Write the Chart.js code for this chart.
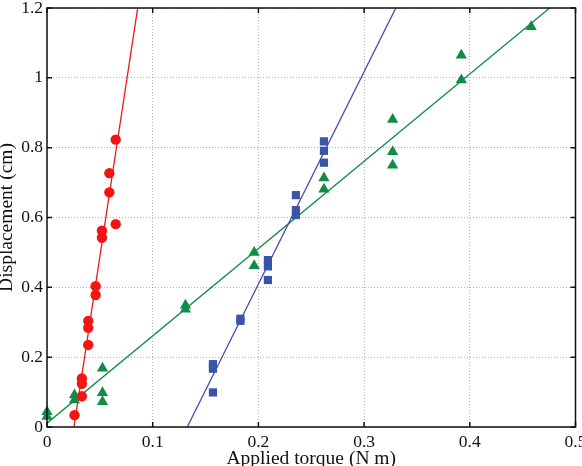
<!DOCTYPE html>
<html>
<head>
<meta charset="utf-8">
<script src="https://cdn.jsdelivr.net/npm/chart.js@4/dist/chart.umd.min.js"></script>
<style>
  html, body { margin: 0; padding: 0; background: #fff; }
  #wrap { width: 582px; height: 466px; }
  .pre { font-family: 'Liberation Serif'; position: absolute; left: -999px; }
</style>
</head>
<body>
<span class="pre">0.1 Applied</span>
<div id="wrap"><canvas id="c" width="582" height="466"></canvas></div>
<script>
// ---- data ----
const redX   = [0.026, 0.033, 0.033, 0.033, 0.039, 0.039, 0.039, 0.046, 0.046, 0.052, 0.052, 0.059, 0.059, 0.065, 0.065];
const redY   = [0.034, 0.088, 0.124, 0.139, 0.235, 0.284, 0.304, 0.378, 0.403, 0.542, 0.562, 0.672, 0.727, 0.581, 0.823];

const blueX  = [0.157, 0.157, 0.157, 0.183, 0.183, 0.209, 0.209, 0.209, 0.2355, 0.2355, 0.2355, 0.262, 0.262, 0.262];
const blueY  = [0.180, 0.167, 0.099, 0.304, 0.310, 0.478, 0.460, 0.421, 0.664, 0.621, 0.607, 0.818, 0.791, 0.757];

const greenX = [0, 0, 0.026, 0.026, 0.0525, 0.0525, 0.0525, 0.131, 0.131, 0.196, 0.196, 0.262, 0.262, 0.327, 0.327, 0.327, 0.392, 0.392, 0.458];
const greenY = [0.044, 0.030, 0.092, 0.077, 0.168, 0.098, 0.072, 0.349, 0.337, 0.500, 0.462, 0.713, 0.681, 0.881, 0.788, 0.750, 1.065, 0.994, 1.146];

// fitted lines: endpoints (x, y)
const redFitX   = [0.0255, 0.0858];
const redFitY   = [0, 1.2];
const blueFitX  = [0.1327, 0.330];
const blueFitY  = [0, 1.2];
const greenFitX = [0, 0.5];
const greenFitY = [0.011, 1.261];

const xTicks = [0, 0.1, 0.2, 0.3, 0.4, 0.5];
const yTicks = [0, 0.2, 0.4, 0.6, 0.8, 1, 1.2];

const xTitle = 'Applied torque (N m)';
const yTitle = 'Displacement (cm)';

// ---- styles ----
const RED = 'rgb(245,20,20)';
const GREEN = 'rgb(16,140,72)';
const BLUE = 'rgb(58,84,168)';
const BLUE_LINE = 'rgb(72,76,165)';
const FONT = 'Liberation Serif';

const pts = (xs, ys) => xs.map((x, i) => ({x: x, y: ys[i]}));

const boxPlugin = {
  id: 'boxTicks',
  afterDraw(chart) {
    const ctx = chart.ctx;
    const a = chart.chartArea;
    const xs = chart.scales.x, ys = chart.scales.y;
    ctx.save();
    ctx.strokeStyle = '#111';
    ctx.lineWidth = 1.5;
    ctx.beginPath();
    ctx.rect(a.left, a.top, a.right - a.left, a.bottom - a.top);
    ctx.stroke();
    ctx.beginPath();
    const L = 5;
    xs.ticks.forEach(t => {
      const p = xs.getPixelForValue(t.value);
      ctx.moveTo(p, a.bottom); ctx.lineTo(p, a.bottom - L);
      ctx.moveTo(p, a.top); ctx.lineTo(p, a.top + L);
    });
    ys.ticks.forEach(t => {
      const p = ys.getPixelForValue(t.value);
      ctx.moveTo(a.left, p); ctx.lineTo(a.left + L, p);
      ctx.moveTo(a.right, p); ctx.lineTo(a.right - L, p);
    });
    ctx.stroke();
    ctx.restore();
  }
};

function build() {
  Chart.defaults.font.family = FONT;
  new Chart(document.getElementById('c'), {
    type: 'scatter',
    data: {
      datasets: [
        { data: pts(redX, redY), pointStyle: 'circle', pointRadius: 5.2, backgroundColor: RED, borderColor: RED, borderWidth: 0, clip: false },
        { data: pts(blueX, blueY), pointStyle: 'rect', pointRadius: 5.8, backgroundColor: BLUE, borderColor: BLUE, borderWidth: 0, clip: false },
        { data: pts(greenX, greenY), pointStyle: 'triangle', pointRadius: 6.5, backgroundColor: GREEN, borderColor: GREEN, borderWidth: 0, clip: false },
        { type: 'line', data: pts(redFitX, redFitY), showLine: true, borderColor: RED, borderWidth: 1.3, pointRadius: 0, fill: false, clip: 0 },
        { type: 'line', data: pts(blueFitX, blueFitY), showLine: true, borderColor: BLUE_LINE, borderWidth: 1.3, pointRadius: 0, fill: false, clip: 0 },
        { type: 'line', data: pts(greenFitX, greenFitY), showLine: true, borderColor: GREEN, borderWidth: 1.3, pointRadius: 0, fill: false, clip: 0 }
      ]
    },
    options: {
      responsive: false,
      animation: false,
      devicePixelRatio: 1,
      layout: { padding: { top: 8, right: 4, left: 0, bottom: 0 } },
      plugins: { legend: { display: false }, tooltip: { enabled: false } },
      scales: {
        x: {
          type: 'linear', min: 0, max: 0.5,
          afterBuildTicks(s) { s.ticks = xTicks.map(v => ({value: v})); },
          afterFit(s) { s.height = 39; s.paddingLeft = 0; s.paddingRight = 0; },
          ticks: {
            padding: 5, color: '#111', maxRotation: 0,
            font: { family: FONT, size: 17.5 },
            callback: v => String(Math.round(v * 10) / 10)
          },
          grid: { color: 'rgba(0,0,0,0.3)', lineWidth: 1, drawTicks: false },
          border: { display: false, dash: [1, 2] },
          title: { display: true, text: xTitle, color: '#111', font: { family: FONT, size: 19.5, lineHeight: 1 }, padding: { top: 0, bottom: -2.5 } }
        },
        y: {
          type: 'linear', min: 0, max: 1.2,
          afterBuildTicks(s) { s.ticks = yTicks.map(v => ({value: v})); },
          afterFit(s) { s.width = 47; s.paddingTop = 0; s.paddingBottom = 0; },
          ticks: {
            padding: 4, color: '#111',
            font: { family: FONT, size: 17.5 },
            callback: v => String(Math.round(v * 10) / 10)
          },
          grid: { color: 'rgba(0,0,0,0.3)', lineWidth: 1, drawTicks: false },
          border: { display: false, dash: [1, 2] },
          title: { display: true, text: yTitle, color: '#111', font: { family: FONT, size: 19.5, lineHeight: 1 }, padding: { top: -3, bottom: 0 } }
        }
      }
    },
    plugins: [boxPlugin]
  });
}

if (document.fonts && document.fonts.load) {
  document.fonts.load("17px 'Liberation Serif'").then(build, build);
} else {
  build();
}
</script>
</body>
</html>
